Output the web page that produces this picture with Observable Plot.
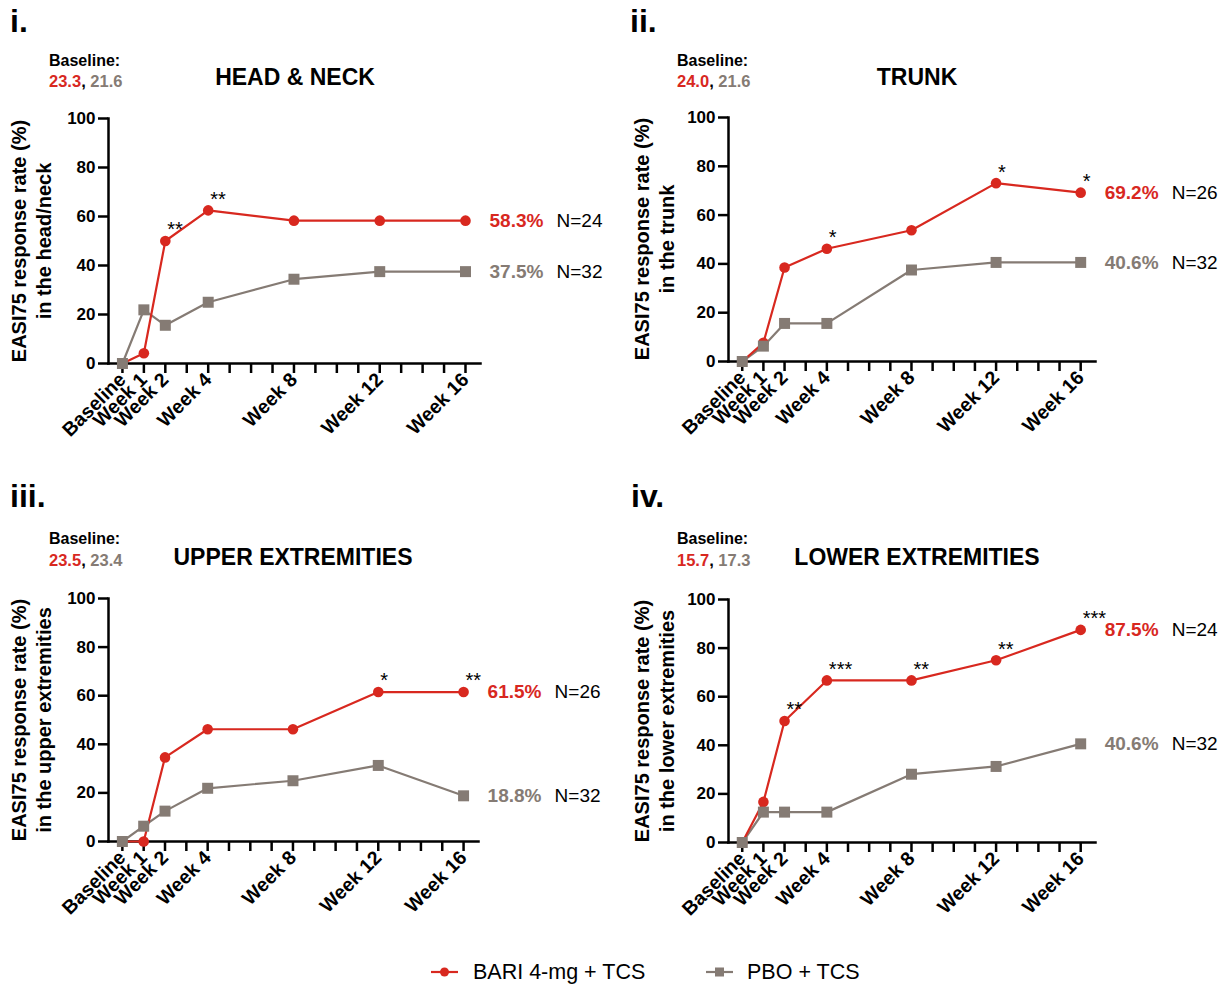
<!DOCTYPE html>
<html>
<head>
<meta charset="utf-8">
<script src="https://cdn.jsdelivr.net/npm/d3@7"></script>
<script src="https://cdn.jsdelivr.net/npm/@observablehq/plot@0.6"></script>
<style>
  html, body { margin: 0; padding: 0; background: #fff; }
  #root { position: relative; width: 1229px; height: 987px; overflow: hidden; font-family: "Liberation Sans", Arial, Helvetica, sans-serif; color: #000; }
  .abs { position: absolute; line-height: 1; white-space: nowrap; }
  .panel { position: absolute; width: 614px; height: 470px; }
  .panel svg { overflow: visible; }
</style>
</head>
<body>
<div id="root"></div>
<script>
// ---------------- DATA ----------------
const weeks = [0, 1, 2, 4, 8, 12, 16];
const weekLabels = ["Baseline", "Week 1", "Week 2", "Week 4", "Week 8", "Week 12", "Week 16"];
const yTicks = [0, 20, 40, 60, 80, 100];
const seriesNames = ["BARI 4-mg + TCS", "PBO + TCS"];
const panelIds = ["i.", "ii.", "iii.", "iv."];
const panelTitles = ["HEAD & NECK", "TRUNK", "UPPER EXTREMITIES", "LOWER EXTREMITIES"];
const yLabelLine1 = "EASI75 response rate (%)";
const yLabelLine2 = ["in the head/neck", "in the trunk", "in the upper extremities", "in the lower extremities"];
const baselineBari = ["23.3", "24.0", "23.5", "15.7"];
const baselinePbo = ["21.6", "21.6", "23.4", "17.3"];
const bariValues = [
  [0, 4.2, 50.0, 62.5, 58.3, 58.3, 58.3],
  [0, 7.7, 38.5, 46.2, 53.8, 73.1, 69.2],
  [0, 0, 34.6, 46.2, 46.2, 61.5, 61.5],
  [0, 16.7, 50.0, 66.7, 66.7, 75.0, 87.5]
];
const pboValues = [
  [0, 21.9, 15.6, 25.0, 34.4, 37.5, 37.5],
  [0, 6.3, 15.6, 15.6, 37.5, 40.6, 40.6],
  [0, 6.3, 12.5, 21.9, 25.0, 31.3, 18.8],
  [0, 12.5, 12.5, 12.5, 28.1, 31.3, 40.6]
];
const endBari = ["58.3%", "69.2%", "61.5%", "87.5%"];
const endPbo = ["37.5%", "40.6%", "18.8%", "40.6%"];
const nBari = ["N=24", "N=26", "N=26", "N=24"];
const nPbo = ["N=32", "N=32", "N=32", "N=32"];
const starWeeks = [[2, 4], [4, 12, 16], [12, 16], [2, 4, 8, 12, 16]];
const starTexts = [["**", "**"], ["*", "*", "*"], ["*", "**"], ["**", "***", "**", "**", "***"]];

// ---------------- STYLE / LAYOUT ----------------
const RED = "#d8281f";
const GRAY = "#857b74";
const FONT = "Liberation Sans, Arial, Helvetica, sans-serif";
const layout = [
  {left: 0,   top: 0,   mt: 118, mb: 107, ml: 108, mr: 134, idX: 10, baseX: 49, titleX: 295, labX: 32, idB: 32, baseB1: 67, baseB2: 87, titleB: 85},
  {left: 615, top: 0,   mt: 117, mb: 109, ml: 113, mr: 134, idX: 15, baseX: 62, titleX: 302, labX: 40, idB: 32, baseB1: 67, baseB2: 87, titleB: 85},
  {left: 0,   top: 470, mt: 128, mb: 99,  ml: 108, mr: 136, idX: 10, baseX: 49, titleX: 293, labX: 32, idB: 37, baseB1: 75, baseB2: 96, titleB: 95},
  {left: 615, top: 470, mt: 129, mb: 98,  ml: 113, mr: 134, idX: 16, baseX: 62, titleX: 302, labX: 40, idB: 37, baseB1: 75, baseB2: 96, titleB: 95}
];

const root = document.getElementById("root");
function addText(parent, html, left, baseline, fs, weight, extra = "") {
  const d = document.createElement("div");
  d.className = "abs";
  d.style.cssText = `left:${left}px;top:${baseline - 0.8465 * fs}px;font-size:${fs}px;font-weight:${weight};${extra}`;
  d.innerHTML = html;
  parent.appendChild(d);
  return d;
}

const labelMap = new Map(weeks.map((w, i) => [w, weekLabels[i]]));

layout.forEach((L, p) => {
  const panel = document.createElement("div");
  panel.className = "panel";
  panel.style.left = L.left + "px";
  panel.style.top = L.top + "px";
  root.appendChild(panel);

  const bari = weeks.map((w, i) => ({week: w, value: bariValues[p][i]}));
  const pbo = weeks.map((w, i) => ({week: w, value: pboValues[p][i]}));
  const stars = starWeeks[p].map((w, i) => ({week: w, value: bariValues[p][weeks.indexOf(w)], text: starTexts[p][i]}));
  const ends = [
    {week: 16, value: bariValues[p][6], pct: endBari[p], n: nBari[p], color: RED},
    {week: 16, value: pboValues[p][6], pct: endPbo[p], n: nPbo[p], color: GRAY}
  ];

  const chart = Plot.plot({
    width: 614,
    height: 470,
    marginTop: L.mt,
    marginBottom: L.mb,
    marginLeft: L.ml,
    marginRight: L.mr,
    style: {fontFamily: FONT, background: "transparent", overflow: "visible"},
    x: {domain: [-0.65, 16.7]},
    y: {domain: [0, 100]},
    marks: [
      Plot.axisY({ticks: yTicks, tickSize: 10, tickPadding: 3, fontSize: 17, fontWeight: "bold", strokeWidth: 2.5, label: null, color: "#000"}),
      Plot.axisX({ticks: d3.range(0, 17), tickFormat: d => labelMap.get(d) ?? "", tickRotate: -45, tickSize: 10, tickPadding: 3, fontSize: 19.5, fontWeight: "bold", strokeWidth: 2.5, label: null, color: "#000"}),
      Plot.frame({anchor: "left", strokeWidth: 2.5, stroke: "#000"}),
      Plot.frame({anchor: "bottom", strokeWidth: 2.5, stroke: "#000"}),
      Plot.line(pbo, {x: "week", y: "value", stroke: GRAY, strokeWidth: 2.2}),
      Plot.line(bari, {x: "week", y: "value", stroke: RED, strokeWidth: 2.2}),
      Plot.dot(bari, {x: "week", y: "value", r: 5.3, fill: RED, symbol: "circle"}),
      Plot.dot(pbo, {x: "week", y: "value", r: 6.2, fill: GRAY, symbol: "square"}),
      Plot.text(stars, {x: "week", y: "value", text: "text", dx: 2, dy: -11, textAnchor: "start", fontSize: 20, fill: "#000"}),
      Plot.text(ends, {x: "week", y: "value", text: "pct", dx: 24, textAnchor: "start", fontSize: 19, fontWeight: "bold", fill: "color"}),
      Plot.text(ends, {x: "week", y: "value", text: "n", dx: 91, textAnchor: "start", fontSize: 19, fill: "#000"})
    ]
  });
  panel.appendChild(chart);

  // panel labels
  addText(panel, panelIds[p], L.idX, L.idB, 32, "bold");
  addText(panel, "Baseline:", L.baseX, L.baseB1, 16, "bold");
  addText(panel, `<span style="color:${RED}">${baselineBari[p]}</span>, <span style="color:${GRAY}">${baselinePbo[p]}</span>`, L.baseX, L.baseB2, 16.5, "bold");
  addText(panel, panelTitles[p], L.titleX, L.titleB, 23, "bold", "transform:translateX(-50%);");

  // y label (two lines, rotated)
  const cy = (L.mt + (470 - L.mb)) / 2;
  const yl = document.createElement("div");
  yl.className = "abs";
  yl.style.cssText = `left:${L.labX}px;top:${cy}px;font-size:20px;font-weight:bold;line-height:25px;text-align:center;transform:translate(-50%,-50%) rotate(-90deg);`;
  yl.innerHTML = `${yLabelLine1}<br>${yLabelLine2[p]}`;
  panel.appendChild(yl);
});

// ---------------- LEGEND ----------------
const legendPos = [{mx: 431, tx: 473}, {mx: 706, tx: 747}];
seriesNames.forEach((name, i) => {
  const svg = d3.create("svg").attr("width", 27).attr("height", 20)
    .style("position", "absolute").style("left", legendPos[i].mx + "px").style("top", "962px");
  const color = i === 0 ? RED : GRAY;
  svg.append("line").attr("x1", 0).attr("x2", 27).attr("y1", 10).attr("y2", 10).attr("stroke", color).attr("stroke-width", 2.2);
  if (i === 0) svg.append("circle").attr("cx", 13.5).attr("cy", 10).attr("r", 4.5).attr("fill", color);
  else svg.append("rect").attr("x", 9).attr("y", 5.5).attr("width", 9).attr("height", 9).attr("fill", color);
  root.appendChild(svg.node());
  addText(root, name, legendPos[i].tx, 980, 21.5, "normal");
});
</script>
</body>
</html>
